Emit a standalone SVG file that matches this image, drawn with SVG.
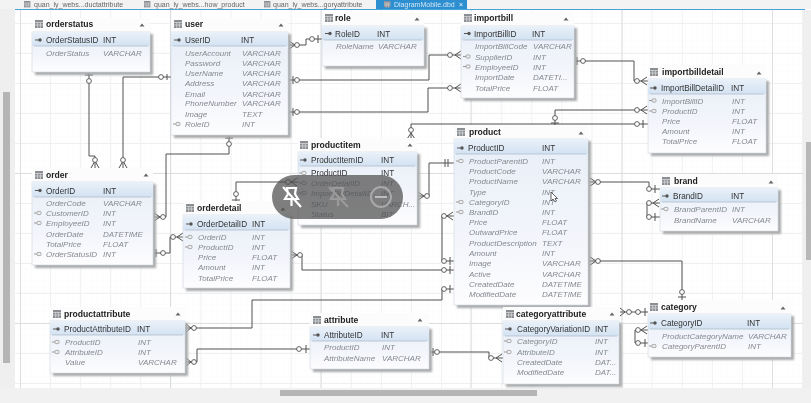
<svg xmlns="http://www.w3.org/2000/svg" xmlns:xlink="http://www.w3.org/1999/xlink" width="811" height="403" viewBox="0 0 811 403">
<style>
text{font-family:"Liberation Sans",Arial,sans-serif}
.h{font-size:8.6px;font-weight:700;fill:#222}
.p{font-size:8.2px;fill:#333}
.a{font-size:8px;font-style:italic;fill:#858a90}
.s{fill:#a8a9aa}
.b{fill:url(#body);stroke:#d5dbe1;stroke-width:.7}
.k{fill:url(#pk)}
.l{stroke:#aab8c6;stroke-width:.7}
.ti{fill:#fcfcfd}
.tr{fill:#666}
.c{fill:none;stroke:#505050;stroke-width:1}
.o{fill:#fff;stroke:#505050;stroke-width:.9}
.tab{font-size:7px;fill:#666}
</style>
<defs>
<linearGradient id="body" x1="0" y1="0" x2="0" y2="1"><stop offset="0" stop-color="#e8eff8"/><stop offset=".6" stop-color="#f3f5fb"/><stop offset="1" stop-color="#fdfdfe"/></linearGradient>
<linearGradient id="pk" x1="0" y1="0" x2="0" y2="1"><stop offset="0" stop-color="#eaf1f9"/><stop offset="1" stop-color="#d3e2f2"/></linearGradient>
<pattern id="g1" width="6" height="6" patternUnits="userSpaceOnUse" x="2" y="5"><path d="M6 0V6M0 6H6" fill="none" stroke="#f9f9fa" stroke-width=".8"/></pattern>
<pattern id="g2" width="30.08" height="30" patternUnits="userSpaceOnUse" x="20" y="23"><path d="M.5 0V30M0 .5H30.08" fill="none" stroke="#eff0f1" stroke-width="1"/></pattern>
<g id="ic"><rect x="0" y="0" width="8" height="8" fill="#8b8f94"/><path d="M0 2.5H8M0 5H8M2.7 2.5V8M5.4 2.5V8" stroke="#e8e8e8" stroke-width=".6"/></g>
<g id="pkk"><path d="M0 0H4" stroke="#555" stroke-width="1"/><circle cx="5" cy="0" r="1.7" fill="#555"/></g>
<g id="fkk"><path d="M0 0H3" stroke="#999" stroke-width="1"/><rect x="3" y="-1.6" width="4" height="3.2" rx="1" fill="#eee" stroke="#999" stroke-width=".8"/></g>
<path id="tri" d="M-2.5 1.5L0 -1.5L2.5 1.5Z" class="tr"/>
<filter id="soft" x="-5%" y="-5%" width="110%" height="110%"><feGaussianBlur stdDeviation=".3"/></filter>
<filter id="sh" x="-5%" y="-5%" width="110%" height="110%"><feGaussianBlur stdDeviation=".8"/></filter>
</defs>
<g filter="url(#soft)">
<rect width="811" height="403" fill="#fff"/>
<rect width="811" height="403" fill="url(#g1)"/>
<rect width="811" height="403" fill="url(#g2)"/>
<path d="M20.500 10V388M170.500 10V388M321 10V388M471 10V388M622 10V388M772.500 10V388M15 173.500H805M15 323.500H805" stroke="#dcdedf" fill="none"/>
<g id="chrome">
<rect x="0" y="0" width="15" height="403" fill="#efefef"/>
<rect x="3" y="92" width="7" height="271" fill="#b5b5b5"/>
<rect x="803" y="10" width="8" height="393" fill="#efefef"/>
<rect x="806" y="142" width="5" height="118" fill="#b8b8b8"/>
<rect x="0" y="388" width="811" height="15" fill="#f1f1f1"/>
<rect x="280" y="390" width="257" height="6" fill="#b5b5b5"/>
<rect x="0" y="0" width="811" height="9" fill="#f3f3f3"/>
<rect x="15" y="9" width="790" height="1" fill="#4aa3d8"/>
<rect x="376" y="0" width="91" height="9" fill="#2f8fd0"/>
<use xlink:href="#ic" transform="translate(24 1) scale(.8)"/><text class="tab" x="34" y="6.500">quan_ly_webs...ductattribute</text>
<use xlink:href="#ic" transform="translate(144 1) scale(.8)"/><text class="tab" x="154" y="6.500">quan_ly_webs...how_product</text>
<use xlink:href="#ic" transform="translate(264 1) scale(.8)"/><text class="tab" x="273" y="6.500">quan_ly_webs...goryattribute</text>
<use xlink:href="#ic" transform="translate(384 1) scale(.8)"/><text class="tab" x="394" y="6.500" style="fill:#cfe6f6">DiagramMobile.dbd</text>
<text class="tab" x="459" y="6.500" style="fill:#fff">×</text>
</g>
<g id="connectors">
<path class="c" d="M89 72V156H95V168M91 168L95 161L99 168"/><path class="c" d="M85 75H93"/><circle class="o" cx="89" cy="81" r="2.400"/><circle class="o" cx="95" cy="160" r="2.400"/>
<path class="c" d="M171 77H123V168M119 168L123 161L127 168M167 74V80"/><circle class="o" cx="161" cy="77" r="2.400"/><circle class="o" cx="123" cy="160" r="2.400"/>
<path class="c" d="M153 217H166V154H229V135M225 138H233M154 213L160 217L154 221"/><circle class="o" cx="163" cy="217" r="2.400"/><circle class="o" cx="229" cy="144" r="2.400"/>
<path class="c" d="M153 253H170V237H183M156 249V257M183 233L177 237L183 241"/><circle class="o" cx="163" cy="253" r="2.400"/><circle class="o" cx="173" cy="237" r="2.400"/>
<path class="c" d="M236 203V182H298M232 200H240M297 178L291 182L297 186"/><circle class="o" cx="236" cy="194" r="2.400"/><circle class="o" cx="288" cy="182" r="2.400"/>
<path class="c" d="M290 255H302V270H454M291 251L297 255L291 259M450 266V274"/><circle class="o" cx="300" cy="255" r="2.400"/><circle class="o" cx="444" cy="270" r="2.400"/>
<path class="c" d="M417 196H429V163H454M418 192L424 196L418 200M445 159V167M448 159V167"/><circle class="o" cx="427" cy="196" r="2.400"/>
<path class="c" d="M411 139V124H648M407 139L411 133L415 139M643 120V128"/><circle class="o" cx="411" cy="130" r="2.400"/><circle class="o" cx="637" cy="124" r="2.400"/>
<path class="c" d="M648 110H555V126M647 106L641 110L647 114"/><path class="c" d="M551 123H559"/><circle class="o" cx="555" cy="118" r="2.400"/><circle class="o" cx="637" cy="110" r="2.400"/>
<path class="c" d="M288 45H306V39H322M289 41L295 45L289 49M318 35V43"/><circle class="o" cx="297" cy="45" r="2.400"/><circle class="o" cx="312" cy="39" r="2.400"/>
<path class="c" d="M288 80H429V55H461M293 76V84M461 51L455 55L461 59"/><circle class="o" cx="297" cy="80" r="2.400"/><circle class="o" cx="450" cy="55" r="2.400"/>
<path class="c" d="M288 112H428V88H461M293 108V116M461 84L455 88L461 92"/><circle class="o" cx="297" cy="112" r="2.400"/><circle class="o" cx="450" cy="88" r="2.400"/>
<path class="c" d="M574 61H634V81H648M577 57V65M647 77L641 81L647 85"/><circle class="o" cx="583" cy="61" r="2.400"/><circle class="o" cx="637" cy="81" r="2.400"/>
<path class="c" d="M588 182H649V189H660M590 178L596 182L590 186M655 185V193"/><circle class="o" cx="598" cy="182" r="2.400"/><circle class="o" cx="649" cy="189" r="2.400"/>
<path class="c" d="M660 203H647V217H660M659 199L653 203L659 207M655 213V221"/><circle class="o" cx="649" cy="203" r="2.400"/><circle class="o" cx="649" cy="217" r="2.400"/>
<path class="c" d="M588 261H682V300M590 257L596 261L590 265M678 297H686"/><circle class="o" cx="598" cy="261" r="2.400"/><circle class="o" cx="682" cy="292" r="2.400"/>
<path class="c" d="M454 216H442V261H454M453 212L447 216L453 220M450 257V265"/><circle class="o" cx="444" cy="216" r="2.400"/><circle class="o" cx="444" cy="261" r="2.400"/>
<path class="c" d="M429 352H489V358H503M433 348V356M502 354L496 358L502 362"/><circle class="o" cx="437" cy="352" r="2.400"/><circle class="o" cx="491" cy="358" r="2.400"/>
<path class="c" d="M185 328H252V300H442V289H454M186 324L191 328L186 332M450 285V293"/><circle class="o" cx="194" cy="328" r="2.400"/><circle class="o" cx="444" cy="289" r="2.400"/>
<path class="c" d="M185 362H197V349H310M186 358L191 362L186 366M306 345V353"/><circle class="o" cx="194" cy="362" r="2.400"/><circle class="o" cx="299" cy="349" r="2.400"/>
<path class="c" d="M620 312H648M620 308L625 312L620 316M645 308V316"/><circle class="o" cx="629" cy="312" r="2.400"/><circle class="o" cx="638" cy="312" r="2.400"/>
<path class="c" d="M648 330H635V343H648M647 326L641 330L647 334M645 339V347"/><circle class="o" cx="638" cy="330" r="2.400"/><circle class="o" cx="638" cy="343" r="2.400"/>
</g>

<g id="orderstatus"><rect class="ti" x="33" y="18" width="117" height="14"/><rect class="s" x="35" y="34" width="118" height="41" filter="url(#sh)"/><rect class="b" x="32" y="32" width="118" height="40"/><rect class="k" x="32" y="32" width="118" height="14"/><path class="l" d="M34 46H148"/>
<use xlink:href="#ic" x="35" y="20"/><text class="h" x="46" y="27">orderstatus</text><use xlink:href="#tri" x="142" y="25"/>
<use xlink:href="#pkk" x="35" y="40"/><text class="p" x="46" y="43">OrderStatusID</text><text class="p" x="103" y="43">INT</text>
<text class="a" x="46" y="56">OrderStatus</text><text class="a" x="103" y="56">VARCHAR</text></g>

<g id="user"><rect class="ti" x="171" y="18" width="117" height="14"/><rect class="s" x="174" y="34" width="117" height="104" filter="url(#sh)"/><rect class="b" x="171" y="32" width="117" height="103"/><rect class="k" x="171" y="32" width="117" height="14"/><path class="l" d="M173 46H286"/>
<use xlink:href="#ic" x="174" y="20"/><text class="h" x="185" y="27">user</text><use xlink:href="#tri" x="281" y="25"/>
<use xlink:href="#pkk" x="174" y="40"/><text class="p" x="185" y="43">UserID</text><text class="p" x="241" y="43">INT</text>
<text class="a" x="185" y="56">UserAccount</text><text class="a" x="242" y="56">VARCHAR</text>
<text class="a" x="185" y="66">Password</text><text class="a" x="242" y="66">VARCHAR</text>
<text class="a" x="185" y="76">UserName</text><text class="a" x="242" y="76">VARCHAR</text>
<text class="a" x="185" y="86">Address</text><text class="a" x="242" y="86">VARCHAR</text>
<text class="a" x="185" y="96.500">Email</text><text class="a" x="242" y="96.500">VARCHAR</text>
<text class="a" x="185" y="106">PhoneNumber</text><text class="a" x="242" y="106">VARCHAR</text>
<text class="a" x="185" y="117">Image</text><text class="a" x="242" y="117">TEXT</text>
<use xlink:href="#fkk" x="173" y="124"/><text class="a" x="185" y="127">RoleID</text><text class="a" x="242" y="127">INT</text></g>

<g id="role"><rect class="ti" x="322" y="12" width="102" height="14"/><rect class="s" x="325" y="28" width="102" height="41" filter="url(#sh)"/><rect class="b" x="322" y="26" width="102" height="40"/><rect class="k" x="322" y="26" width="102" height="14"/><path class="l" d="M324 40H422"/>
<use xlink:href="#ic" x="325" y="14"/><text class="h" x="335" y="21">role</text><use xlink:href="#tri" x="417" y="19"/>
<use xlink:href="#pkk" x="325" y="33.500"/><text class="p" x="335" y="36.500">RoleID</text><text class="p" x="377" y="36.500">INT</text>
<text class="a" x="336" y="49">RoleName</text><text class="a" x="378" y="49">VARCHAR</text></g>

<g id="importbill"><rect class="ti" x="461" y="12" width="113" height="14"/><rect class="s" x="464" y="28" width="113" height="73" filter="url(#sh)"/><rect class="b" x="461" y="26" width="113" height="72"/><rect class="k" x="461" y="26" width="113" height="14"/><path class="l" d="M463 40H572"/>
<use xlink:href="#ic" x="464" y="14"/><text class="h" x="474" y="21">importbill</text><use xlink:href="#tri" x="566" y="19"/>
<use xlink:href="#pkk" x="464" y="33.500"/><text class="p" x="474" y="36.500">ImportBillID</text><text class="p" x="532" y="36.500">INT</text>
<text class="a" x="475" y="49">ImportBillCode</text><text class="a" x="533" y="49">VARCHAR</text>
<use xlink:href="#fkk" x="463" y="56.500"/><text class="a" x="475" y="59.500">SupplierID</text><text class="a" x="533" y="59.500">INT</text>
<use xlink:href="#fkk" x="463" y="66.500"/><text class="a" x="475" y="69.500">EmployeeID</text><text class="a" x="533" y="69.500">INT</text>
<text class="a" x="475" y="80">ImportDate</text><text class="a" x="533" y="80">DATETI...</text>
<text class="a" x="475" y="90.500">TotalPrice</text><text class="a" x="533" y="90.500">FLOAT</text></g>

<g id="importbilldetail"><rect class="ti" x="648" y="65" width="118" height="14"/><rect class="s" x="651" y="81" width="118" height="75" filter="url(#sh)"/><rect class="b" x="648" y="79" width="118" height="74"/><rect class="k" x="648" y="79" width="118" height="15"/><path class="l" d="M650 94H764"/>
<use xlink:href="#ic" x="650" y="68"/><text class="h" x="662" y="75">importbilldetail</text><use xlink:href="#tri" x="759" y="73"/>
<use xlink:href="#pkk" x="650" y="88"/><text class="p" x="661" y="91">ImportBillDetailID</text><text class="p" x="731" y="91">INT</text>
<use xlink:href="#fkk" x="649" y="100.500"/><text class="a" x="662" y="103.500">ImportBillID</text><text class="a" x="732" y="103.500">INT</text>
<use xlink:href="#fkk" x="649" y="111"/><text class="a" x="662" y="114">ProductID</text><text class="a" x="732" y="114">INT</text>
<text class="a" x="662" y="124">Price</text><text class="a" x="732" y="124">FLOAT</text>
<text class="a" x="662" y="134">Amount</text><text class="a" x="732" y="134">INT</text>
<text class="a" x="662" y="144">TotalPrice</text><text class="a" x="732" y="144">FLOAT</text></g>

<g id="brand"><rect class="ti" x="660" y="174" width="118" height="14"/><rect class="s" x="663" y="190" width="118" height="44" filter="url(#sh)"/><rect class="b" x="660" y="188" width="118" height="43"/><rect class="k" x="660" y="188" width="118" height="14"/><path class="l" d="M662 202H776"/>
<use xlink:href="#ic" x="662" y="177"/><text class="h" x="674" y="184">brand</text><use xlink:href="#tri" x="771" y="182"/>
<use xlink:href="#pkk" x="662" y="196"/><text class="p" x="673" y="199">BrandID</text><text class="p" x="731" y="199">INT</text>
<use xlink:href="#fkk" x="661" y="209"/><text class="a" x="674" y="212">BrandParentID</text><text class="a" x="732" y="212">INT</text>
<text class="a" x="674" y="223">BrandName</text><text class="a" x="732" y="223">VARCHAR</text></g>

<g id="order"><rect class="ti" x="32" y="168" width="121" height="14"/><rect class="s" x="35" y="184" width="121" height="84" filter="url(#sh)"/><rect class="b" x="32" y="182" width="121" height="83"/><rect class="k" x="32" y="182" width="121" height="15"/><path class="l" d="M34 197H151"/>
<use xlink:href="#ic" x="35" y="171"/><text class="h" x="46" y="178">order</text><use xlink:href="#tri" x="146" y="175"/>
<use xlink:href="#pkk" x="35" y="190.500"/><text class="p" x="46" y="193.500">OrderID</text><text class="p" x="103" y="193.500">INT</text>
<text class="a" x="46" y="206">OrderCode</text><text class="a" x="103" y="206">VARCHAR</text>
<use xlink:href="#fkk" x="34" y="213"/><text class="a" x="46" y="216">CustomerID</text><text class="a" x="103" y="216">INT</text>
<use xlink:href="#fkk" x="34" y="223"/><text class="a" x="46" y="226">EmployeeID</text><text class="a" x="103" y="226">INT</text>
<text class="a" x="46" y="237">OrderDate</text><text class="a" x="103" y="237">DATETIME</text>
<text class="a" x="46" y="247">TotalPrice</text><text class="a" x="103" y="247">FLOAT</text>
<use xlink:href="#fkk" x="34" y="254"/><text class="a" x="46" y="257">OrderStatusID</text><text class="a" x="103" y="257">INT</text></g>

<g id="orderdetail"><rect class="ti" x="183" y="201" width="107" height="14"/><rect class="s" x="186" y="217" width="107" height="74" filter="url(#sh)"/><rect class="b" x="183" y="215" width="107" height="73"/><rect class="k" x="183" y="215" width="107" height="15"/><path class="l" d="M185 230H288"/>
<use xlink:href="#ic" x="186" y="204"/><text class="h" x="197" y="211">orderdetail</text><use xlink:href="#tri" x="283" y="209"/>
<use xlink:href="#pkk" x="186" y="224"/><text class="p" x="197" y="227">OrderDetailID</text><text class="p" x="252" y="227">INT</text>
<use xlink:href="#fkk" x="185" y="237"/><text class="a" x="198" y="240">OrderID</text><text class="a" x="252" y="240">INT</text>
<use xlink:href="#fkk" x="185" y="247"/><text class="a" x="198" y="250">ProductID</text><text class="a" x="252" y="250">INT</text>
<text class="a" x="198" y="260">Price</text><text class="a" x="252" y="260">FLOAT</text>
<text class="a" x="198" y="270">Amount</text><text class="a" x="252" y="270">INT</text>
<text class="a" x="198" y="281">TotalPrice</text><text class="a" x="252" y="281">FLOAT</text></g>

<g id="productitem"><rect class="ti" x="298" y="138" width="119" height="14"/><rect class="s" x="301" y="154" width="119" height="74" filter="url(#sh)"/><rect class="b" x="298" y="152" width="119" height="73"/><rect class="k" x="298" y="152" width="119" height="14"/><path class="l" d="M300 166H415"/>
<use xlink:href="#ic" x="300" y="141"/><text class="h" x="311" y="148">productitem</text><use xlink:href="#tri" x="410" y="145"/>
<use xlink:href="#pkk" x="300" y="160"/><text class="p" x="311" y="163">ProductItemID</text><text class="p" x="381" y="163">INT</text>
<use xlink:href="#fkk" x="299" y="173"/><text class="p" x="311" y="176">ProductID</text><text class="p" x="381" y="176">INT</text>
<use xlink:href="#fkk" x="299" y="183"/><text class="a" x="311" y="186">OrderDetailID</text><text class="a" x="381" y="186">INT</text>
<use xlink:href="#fkk" x="299" y="193"/><text class="a" x="311" y="196">ImportBillDetailID</text><text class="a" x="381" y="196">INT</text>
<text class="a" x="311" y="207">SKU</text><text class="a" x="381" y="207">VARCH...</text>
<text class="a" x="311" y="217">Status</text><text class="a" x="381" y="217">BIT</text></g>

<g id="product"><rect class="ti" x="454" y="125" width="134" height="14"/><rect class="s" x="457" y="141" width="134" height="167" filter="url(#sh)"/><rect class="b" x="454" y="139" width="134" height="166"/><rect class="k" x="454" y="139" width="134" height="15"/><path class="l" d="M456 154H586"/>
<use xlink:href="#ic" x="457" y="128"/><text class="h" x="469" y="135">product</text><use xlink:href="#tri" x="581" y="133"/>
<use xlink:href="#pkk" x="457" y="148"/><text class="p" x="468" y="151">ProductID</text><text class="p" x="542" y="151">INT</text>
<use xlink:href="#fkk" x="456" y="161"/><text class="a" x="469" y="164">ProductParentID</text><text class="a" x="542" y="164">INT</text>
<text class="a" x="469" y="174">ProductCode</text><text class="a" x="542" y="174">VARCHAR</text>
<text class="a" x="469" y="184">ProductName</text><text class="a" x="542" y="184">VARCHAR</text>
<text class="a" x="469" y="195">Type</text><text class="a" x="542" y="195">INT</text>
<use xlink:href="#fkk" x="456" y="202"/><text class="a" x="469" y="205">CategoryID</text><text class="a" x="542" y="205">INT</text>
<use xlink:href="#fkk" x="456" y="212"/><text class="a" x="469" y="215">BrandID</text><text class="a" x="542" y="215">INT</text>
<text class="a" x="469" y="225">Price</text><text class="a" x="542" y="225">FLOAT</text>
<text class="a" x="469" y="235">OutwardPrice</text><text class="a" x="542" y="235">FLOAT</text>
<text class="a" x="469" y="246">ProductDescription</text><text class="a" x="542" y="246">TEXT</text>
<text class="a" x="469" y="256">Amount</text><text class="a" x="542" y="256">INT</text>
<text class="a" x="469" y="266">Image</text><text class="a" x="542" y="266">VARCHAR</text>
<text class="a" x="469" y="277">Active</text><text class="a" x="542" y="277">VARCHAR</text>
<text class="a" x="469" y="287">CreatedDate</text><text class="a" x="542" y="287">DATETIME</text>
<text class="a" x="469" y="297">ModifiedDate</text><text class="a" x="542" y="297">DATETIME</text></g>

<g id="productattribute"><rect class="ti" x="50" y="307" width="135" height="14"/><rect class="s" x="53" y="323" width="135" height="53" filter="url(#sh)"/><rect class="b" x="50" y="321" width="135" height="52"/><rect class="k" x="50" y="321" width="135" height="14"/><path class="l" d="M52 335H183"/>
<use xlink:href="#ic" x="53" y="310"/><text class="h" x="64" y="316.500">productattribute</text><use xlink:href="#tri" x="178" y="314"/>
<use xlink:href="#pkk" x="53" y="329"/><text class="p" x="64" y="332">ProductAttributeID</text><text class="p" x="137" y="332">INT</text>
<use xlink:href="#fkk" x="52" y="342"/><text class="a" x="65" y="345">ProductID</text><text class="a" x="138" y="345">INT</text>
<use xlink:href="#fkk" x="52" y="352"/><text class="a" x="65" y="355">AttributeID</text><text class="a" x="138" y="355">INT</text>
<text class="a" x="65" y="365">Value</text><text class="a" x="138" y="365">VARCHAR</text></g>

<g id="attribute"><rect class="ti" x="310" y="313" width="119" height="14"/><rect class="s" x="313" y="329" width="119" height="43" filter="url(#sh)"/><rect class="b" x="310" y="327" width="119" height="42"/><rect class="k" x="310" y="327" width="119" height="14"/><path class="l" d="M312 341H427"/>
<use xlink:href="#ic" x="313" y="316"/><text class="h" x="324" y="322.500">attribute</text><use xlink:href="#tri" x="420" y="320"/>
<use xlink:href="#pkk" x="313" y="335"/><text class="p" x="324" y="338">AttributeID</text><text class="p" x="381" y="338">INT</text>
<text class="a" x="324" y="350">ProductID</text><text class="a" x="382" y="350">INT</text>
<text class="a" x="324" y="361">AttributeName</text><text class="a" x="382" y="361">VARCHAR</text></g>

<g id="categoryattribute"><rect class="ti" x="503" y="307" width="116" height="14"/><rect class="s" x="506" y="323" width="116" height="64" filter="url(#sh)"/><rect class="b" x="503" y="321" width="116" height="63"/><rect class="k" x="503" y="321" width="116" height="15"/><path class="l" d="M505 336H617"/>
<use xlink:href="#ic" x="506" y="310"/><text class="h" x="516" y="316.500">categoryattribute</text><use xlink:href="#tri" x="612" y="314"/>
<use xlink:href="#pkk" x="505" y="329"/><text class="p" x="517" y="332">CategoryVariationID</text><text class="p" x="595" y="332">INT</text>
<use xlink:href="#fkk" x="504" y="341"/><text class="a" x="517" y="344">CategoryID</text><text class="a" x="595" y="344">INT</text>
<use xlink:href="#fkk" x="504" y="352"/><text class="a" x="517" y="355">AttributeID</text><text class="a" x="595" y="355">INT</text>
<text class="a" x="517" y="365">CreatedDate</text><text class="a" x="595" y="365">DAT...</text>
<text class="a" x="517" y="375">ModifiedDate</text><text class="a" x="595" y="375">DAT...</text></g>

<g id="category"><rect class="ti" x="648" y="300" width="143" height="14"/><rect class="s" x="651" y="316" width="143" height="44" filter="url(#sh)"/><rect class="b" x="648" y="314" width="143" height="43"/><rect class="k" x="648" y="314" width="143" height="15"/><path class="l" d="M650 329H789"/>
<use xlink:href="#ic" x="650" y="303"/><text class="h" x="661" y="310">category</text><use xlink:href="#tri" x="783" y="308"/>
<use xlink:href="#pkk" x="650" y="323"/><text class="p" x="661" y="326">CategoryID</text><text class="p" x="747" y="326">INT</text>
<text class="a" x="662" y="339">ProductCategoryName</text><text class="a" x="748" y="339">VARCHAR</text>
<use xlink:href="#fkk" x="649" y="346"/><text class="a" x="662" y="349">CategoryParentID</text><text class="a" x="748" y="349">INT</text></g>

<g id="overlay">
<rect x="272" y="175" width="131" height="44" rx="22" fill="#4e4e4e" fill-opacity=".72"/>
<path d="M287 188H296L295 194L298 199H285L288 194ZM291.500 199V206M283 187L301 207" fill="none" stroke="#fff" stroke-width="2.200"/>
<path d="M333 188H343L342 194L345 199H331L334 194ZM338 199V206M329 187L348 207" fill="none" stroke="#9a9a9a" stroke-width="2.200"/>
<circle cx="381" cy="197" r="10" fill="none" stroke="#a8a8a8" stroke-width="2"/>
<path d="M375 197H387" stroke="#bdbdbd" stroke-width="2"/>
</g>
<path id="cursor" d="M551 192V201L553 199L555 202L556.500 201L555 198.500L557.500 198.500Z" fill="#fff" stroke="#222" stroke-width=".7"/>
</g>
</svg>
